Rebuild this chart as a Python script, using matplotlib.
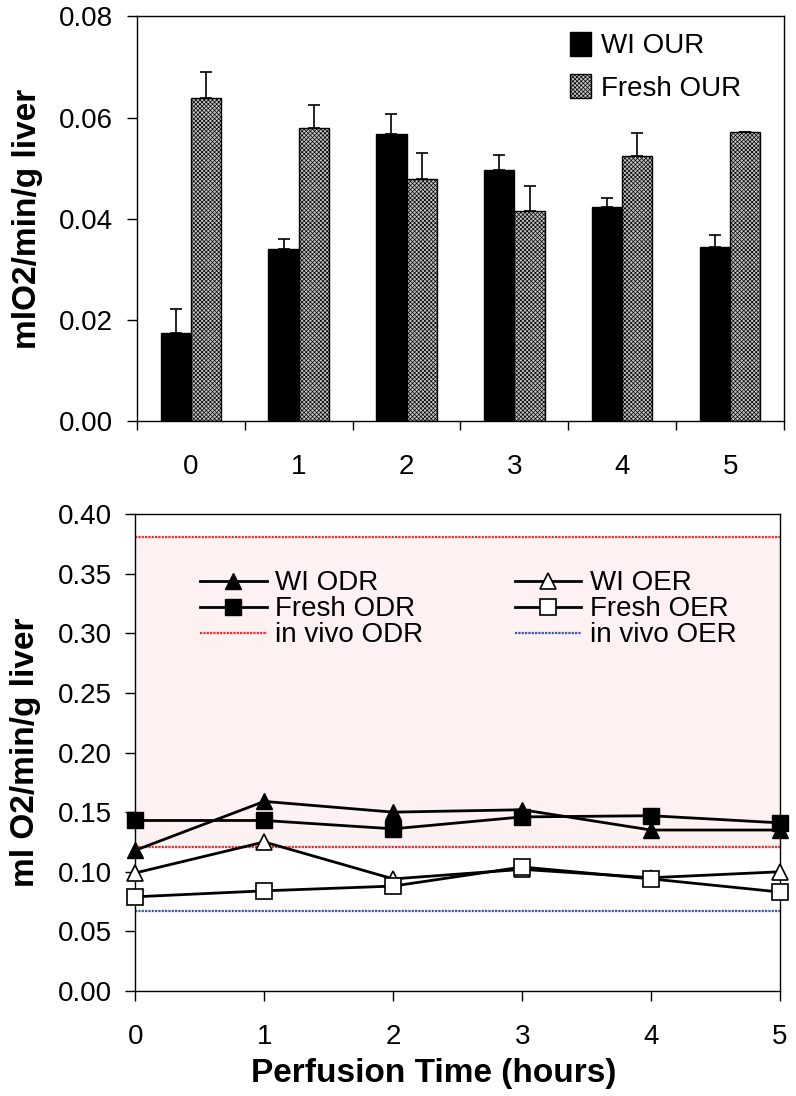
import numpy as np
import matplotlib
matplotlib.use("Agg")
import matplotlib.pyplot as plt
from matplotlib.ticker import FixedLocator, FormatStrFormatter

plt.rcParams['font.family'] = ['Liberation Sans', 'DejaVu Sans']
plt.rcParams['hatch.linewidth'] = 0.5

# ---------------- data ----------------
hours = [0, 1, 2, 3, 4, 5]

wi_our = [0.0174, 0.0339, 0.0568, 0.0497, 0.0424, 0.0344]
wi_our_err = [0.0048, 0.0020, 0.0039, 0.0029, 0.0016, 0.0023]
fresh_our = [0.0639, 0.0580, 0.0478, 0.0416, 0.0524, 0.0571]
fresh_our_err = [0.0052, 0.0044, 0.0051, 0.0049, 0.0045, 0.0]

wi_odr = [0.118, 0.159, 0.150, 0.152, 0.135, 0.135]
fresh_odr = [0.143, 0.143, 0.136, 0.146, 0.147, 0.141]
wi_oer = [0.099, 0.125, 0.094, 0.102, 0.095, 0.100]
fresh_oer = [0.079, 0.084, 0.088, 0.104, 0.094, 0.083]

invivo_odr_low = 0.121
invivo_odr_high = 0.381
invivo_oer = 0.067

# ---------------- figure ----------------
fig = plt.figure(figsize=(7.96, 10.96), dpi=100)
ax1 = fig.add_axes([0.172, 0.616, 0.813, 0.369])
ax2 = fig.add_axes([0.170, 0.0958, 0.810, 0.4352])

FS = 20     # ticks / legend
LFS = 24    # axis labels

# ---- top panel: OUR bars ----
x = np.arange(len(hours))
w = 0.28
ax1.bar(x - w / 2, wi_our, w, color='black', edgecolor='black', linewidth=1,
        label='WI OUR', zorder=2)
ax1.bar(x + w / 2, fresh_our, w, color='#c4c4c4', edgecolor='black', linewidth=1,
        hatch='xxxxxxxx', label='Fresh OUR', zorder=2)
ax1.errorbar(x - w / 2, wi_our, yerr=[np.zeros(6), wi_our_err], fmt='none',
             ecolor='black', elinewidth=1.2, capsize=4, capthick=1.2, zorder=3)
ax1.errorbar(x + w / 2, fresh_our, yerr=[np.zeros(6), fresh_our_err], fmt='none',
             ecolor='black', elinewidth=1.2, capsize=4, capthick=1.2, zorder=3)

ax1.set_xlim(-0.5, 5.5)
ax1.set_ylim(0, 0.08)
ax1.set_yticks([0, 0.02, 0.04, 0.06, 0.08])
ax1.yaxis.set_major_formatter(FormatStrFormatter('%.2f'))
ax1.xaxis.set_major_locator(FixedLocator(np.arange(-0.5, 6, 1.0)))
ax1.xaxis.set_major_formatter(plt.NullFormatter())
ax1.xaxis.set_minor_locator(FixedLocator(x))
ax1.set_xticklabels([str(h) for h in hours], minor=True)
ax1.tick_params(axis='x', which='major', direction='out', length=6.5, width=1)
ax1.tick_params(axis='x', which='minor', length=0, pad=24, labelsize=FS)
ax1.tick_params(axis='y', direction='out', length=7, width=1, pad=10, labelsize=FS)
ax1.set_ylabel('mlO2/min/g liver', fontsize=LFS, fontweight='bold', labelpad=12)
ax1.legend(loc='upper left', bbox_to_anchor=(0.652, 0.99), frameon=False,
           fontsize=FS, handlelength=0.75, handleheight=0.95, handletextpad=0.35,
           labelspacing=0.55, borderaxespad=0)

# ---- bottom panel: ODR / OER lines ----
ax2.axhspan(invivo_odr_low, invivo_odr_high, color='#fdf1f1', zorder=0)
ax2.axhline(invivo_odr_high, color='#ee2a2a', lw=1.6, ls=(0, (1, 0.5)), zorder=1)
ax2.axhline(invivo_odr_low, color='#ee2a2a', lw=1.6, ls=(0, (1, 0.5)), zorder=1,
            label='in vivo ODR')
ax2.axhline(invivo_oer, color='#3a56a8', lw=1.6, ls=(0, (1, 0.5)), zorder=1,
            label='in vivo OER')

ax2.plot(hours, wi_odr, color='black', lw=2, marker='^', ms=12, mfc='black',
         mec='black', label='WI ODR', clip_on=False, zorder=4)
ax2.plot(hours, fresh_odr, color='black', lw=2, marker='s', ms=11, mfc='black',
         mec='black', label='Fresh ODR', clip_on=False, zorder=4)
ax2.plot(hours, wi_oer, color='black', lw=2, marker='^', ms=12, mfc='white',
         mec='black', mew=1.2, label='WI OER', clip_on=False, zorder=4)
ax2.plot(hours, fresh_oer, color='black', lw=2, marker='s', ms=11, mfc='white',
         mec='black', mew=1.2, label='Fresh OER', clip_on=False, zorder=4)

ax2.set_xlim(0, 5)
ax2.set_ylim(0, 0.40)
ax2.set_xticks(hours)
ax2.set_yticks(np.arange(0, 0.41, 0.05))
ax2.yaxis.set_major_formatter(FormatStrFormatter('%.2f'))
ax2.tick_params(axis='x', direction='out', length=7, width=1, pad=17, labelsize=FS)
ax2.tick_params(axis='y', direction='out', length=7, width=1, pad=10, labelsize=FS)
ax2.set_ylabel('ml O2/min/g liver', fontsize=LFS, fontweight='bold', labelpad=12)
ax2.set_xlabel('Perfusion Time (hours)', fontsize=LFS, fontweight='bold')
ax2.xaxis.set_label_coords(0.462, -0.14)

h, l = ax2.get_legend_handles_labels()
order = ['WI ODR', 'Fresh ODR', 'in vivo ODR', 'WI OER', 'Fresh OER', 'in vivo OER']
hh = [h[l.index(o)] for o in order]
ax2.legend(hh, order, ncol=2, loc='upper left', bbox_to_anchor=(0.083, 0.905),
           frameon=False, fontsize=FS, handlelength=2.4, handletextpad=0.3,
           labelspacing=0.0, columnspacing=3.3, borderaxespad=0)

for ax in (ax1, ax2):
    for s in ax.spines.values():
        s.set_linewidth(1)

fig.savefig('out.png', dpi=100)
